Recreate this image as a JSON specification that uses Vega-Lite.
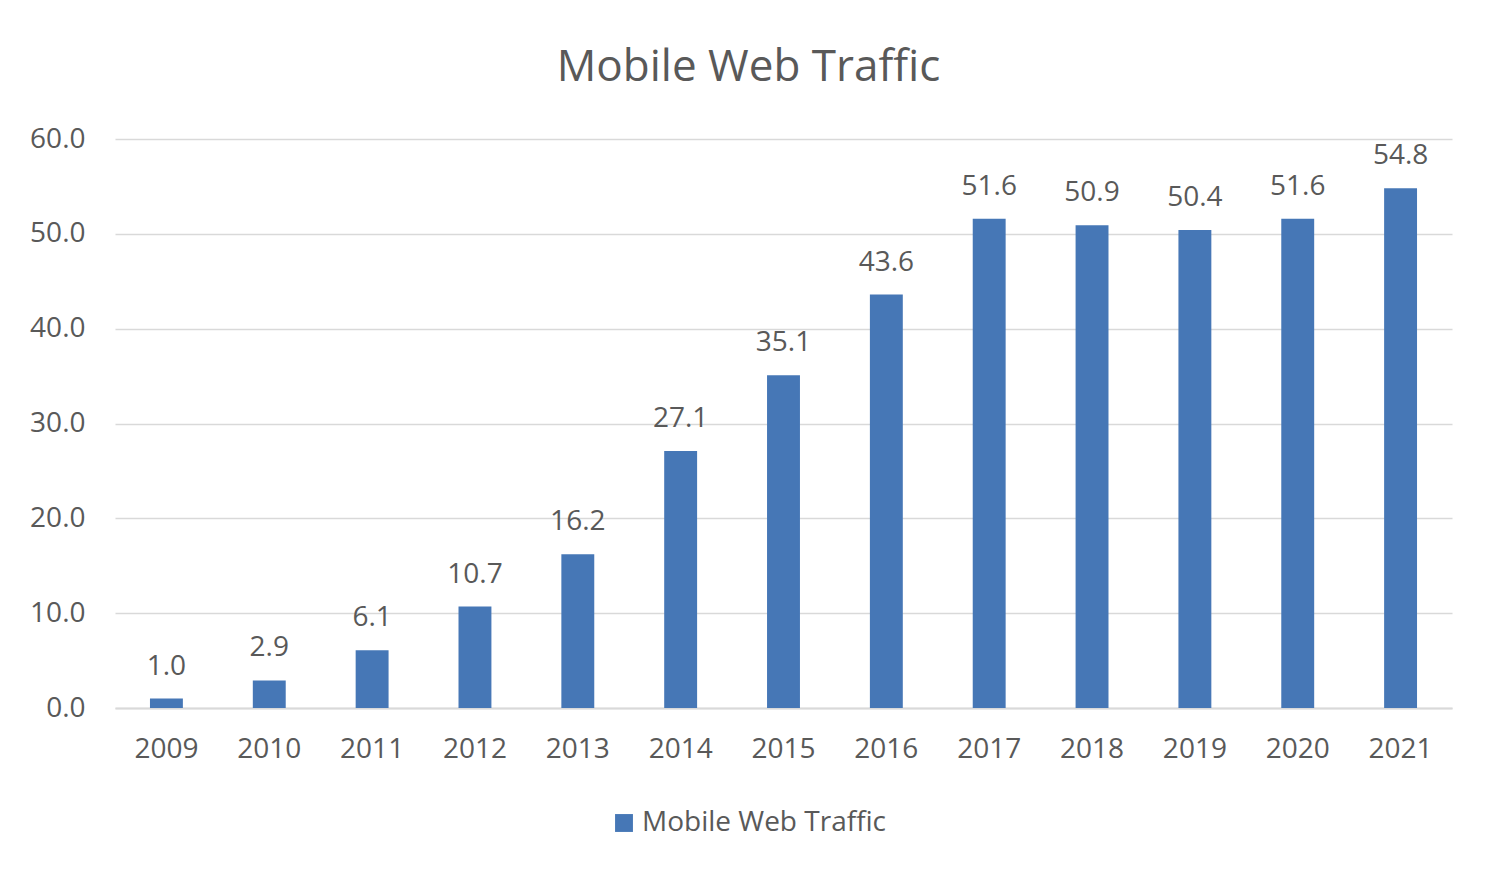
{
  "$schema": "https://vega.github.io/schema/vega-lite/v6.json",
  "width": 1337,
  "height": 569,
  "autosize": "none",
  "padding": {"left": 115, "top": 139, "right": 48, "bottom": 172},
  "background": "white",
  "title": {
    "text": "Mobile Web Traffic",
    "fontSize": 44,
    "font": "Open Sans",
    "fontWeight": "normal",
    "color": "#595959",
    "anchor": "middle",
    "dx": -35,
    "offset": 35
  },
  "data": {
    "values": [
      {"year": "2009", "value": 1.0},
      {"year": "2010", "value": 2.9},
      {"year": "2011", "value": 6.1},
      {"year": "2012", "value": 10.7},
      {"year": "2013", "value": 16.2},
      {"year": "2014", "value": 27.1},
      {"year": "2015", "value": 35.1},
      {"year": "2016", "value": 43.6},
      {"year": "2017", "value": 51.6},
      {"year": "2018", "value": 50.9},
      {"year": "2019", "value": 50.4},
      {"year": "2020", "value": 51.6},
      {"year": "2021", "value": 54.8}
    ]
  },
  "encoding": {
    "x": {
      "field": "year",
      "type": "nominal",
      "title": null,
      "scale": {"paddingInner": 0.68, "paddingOuter": 0.34},
      "axis": {
        "labelAngle": 0,
        "labelFont": "Open Sans",
        "labelFontSize": 28,
        "labelColor": "#595959",
        "labelPadding": 27,
        "ticks": false,
        "domainColor": "#d9d9d9",
        "domainWidth": 2
      }
    },
    "y": {
      "field": "value",
      "type": "quantitative",
      "title": null,
      "scale": {"domain": [0, 60]},
      "axis": {
        "values": [0, 10, 20, 30, 40, 50, 60],
        "format": ".1f",
        "labelFont": "Open Sans",
        "labelFontSize": 28,
        "labelColor": "#595959",
        "labelPadding": 30,
        "ticks": false,
        "domain": false,
        "gridColor": "#d9d9d9",
        "gridWidth": 1.5
      }
    }
  },
  "layer": [
    {
      "mark": {"type": "bar"},
      "encoding": {
        "color": {
          "datum": "Mobile Web Traffic",
          "type": "nominal",
          "scale": {"range": ["#4677B6"]},
          "legend": {
            "title": null,
            "orient": "none",
            "legendX": 495,
            "legendY": 670,
            "symbolType": "square",
            "symbolSize": 320,
            "labelFont": "Open Sans",
            "labelFontSize": 28,
            "labelColor": "#595959",
            "labelOffset": 4,
            "labelLimit": 0
          }
        }
      }
    },
    {
      "mark": {"type": "text", "baseline": "bottom", "dy": -18, "font": "Open Sans", "fontSize": 28, "color": "#595959"},
      "encoding": {
        "text": {"field": "value", "type": "quantitative", "format": ".1f"}
      }
    }
  ],
  "config": {"view": {"stroke": null}}
}
